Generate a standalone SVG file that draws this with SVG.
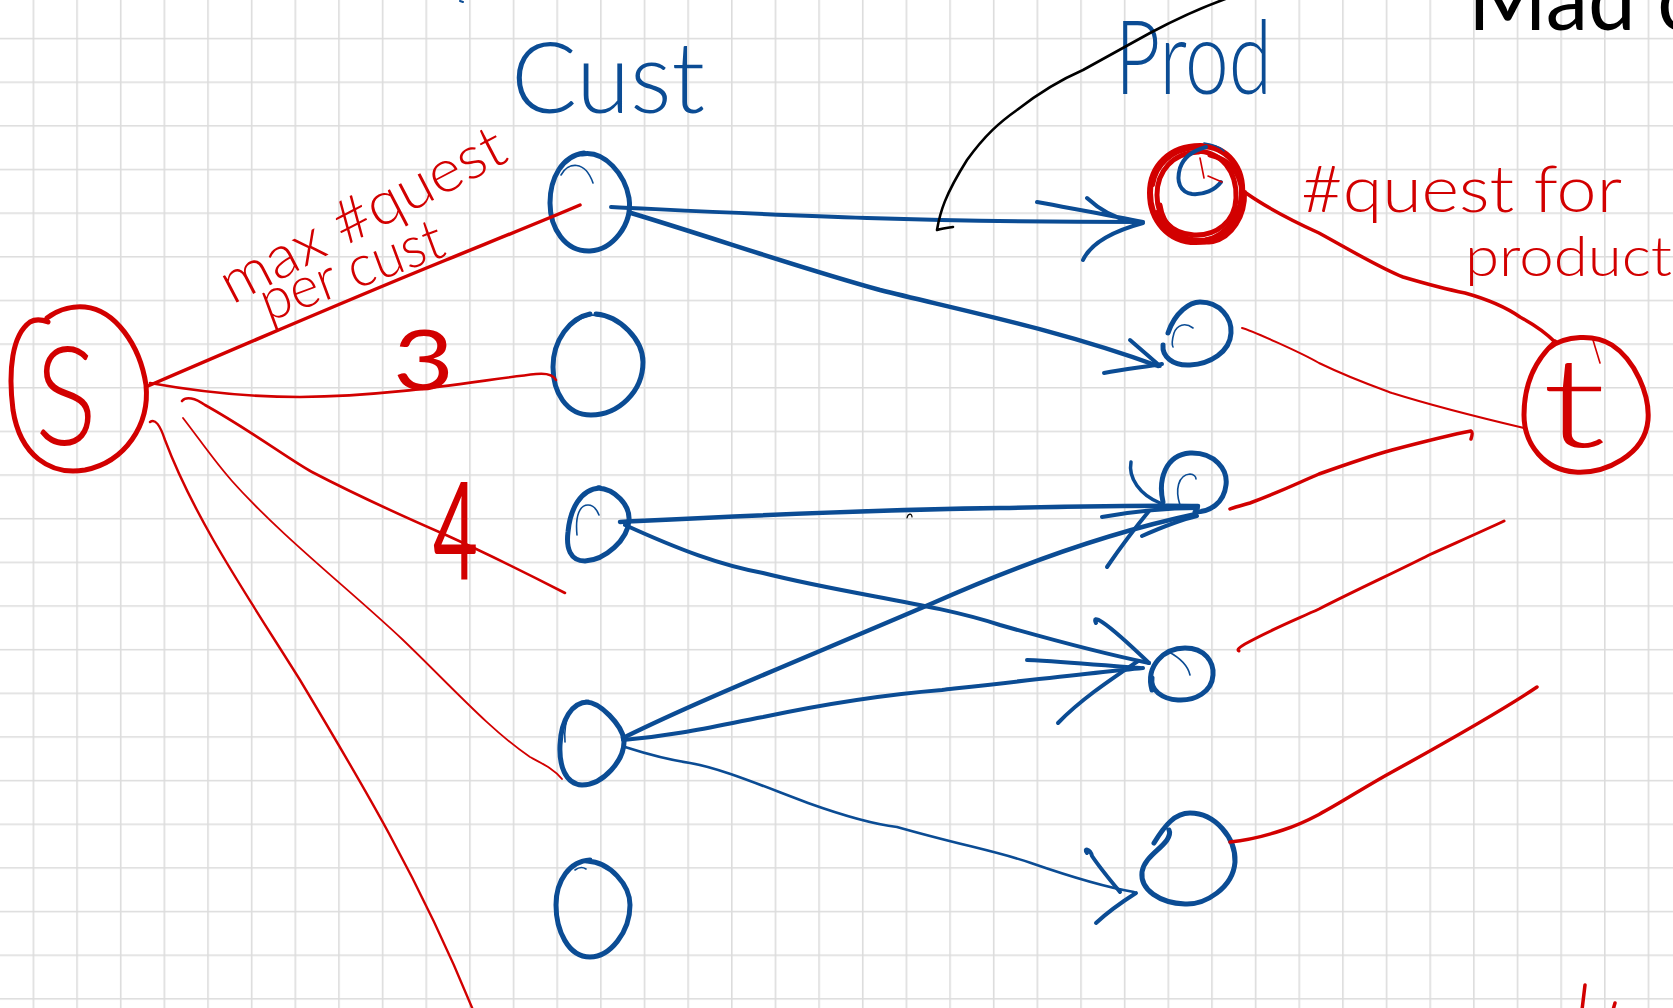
<svg xmlns="http://www.w3.org/2000/svg" width="1673" height="1008" viewBox="0 0 1673 1008">
  <defs>
    <pattern id="grid" x="32.6" y="37.8" width="43.65" height="43.65" patternUnits="userSpaceOnUse">
      <path d="M0.8,0 V43.65 M0,0.8 H43.65" stroke="#dcdcdc" stroke-width="1.6" fill="none"/>
    </pattern>
    <style>
      .ink { fill: none; stroke-linecap: round; stroke-linejoin: round; }
      .red { stroke: #d20000; }
      .blue { stroke: #0b4c94; }
      .black { stroke: #000000; }
      .node { stroke-width: 5; }
      .fine { stroke-width: 1.6; }
      .hand { font-family: Lato, "Liberation Sans", "DejaVu Sans", sans-serif; font-weight: 300; }
      .medium { font-weight: 400; }
      .tred { fill: #d20000; }
      .tblue { fill: #0b4c94; }
    </style>
  </defs>

  <!-- paper -->
  <rect width="1673" height="1008" fill="#ffffff"/>
  <rect width="1673" height="1008" fill="url(#grid)"/>

  <!-- column headings and notes -->
  <g id="labels">
    <text class="hand tblue" x="511" y="113" font-size="98" textLength="194" lengthAdjust="spacingAndGlyphs">Cust</text>
    <text class="hand tblue" x="1115" y="94" font-size="102" textLength="157" lengthAdjust="spacingAndGlyphs">Prod</text>
    <text class="hand medium" x="1468" y="30" font-size="90" textLength="230" lengthAdjust="spacingAndGlyphs" fill="#000">Mad c</text>
    <text class="hand tred" transform="translate(232,305) rotate(-27.5)" font-size="60" textLength="314" lengthAdjust="spacingAndGlyphs">max #quest</text>
    <text class="hand tred" transform="translate(268,322) rotate(-20.4)" font-size="58" textLength="192" lengthAdjust="spacingAndGlyphs">per cust</text>
    <text class="hand tred" x="1301" y="212" font-size="66" textLength="321" lengthAdjust="spacingAndGlyphs">#quest for</text>
    <text class="hand tred" x="1465" y="276" font-size="56" textLength="207" lengthAdjust="spacingAndGlyphs">product</text>
  </g>

  <!-- source -->
  <g id="node-s">
    <path class="ink red node" d="M47,318 C60,308 75,306 85,307 C115,310 140,345 146,385 C150,425 125,462 85,470 C50,476 20,455 13,410 C8,370 12,335 30,322 C37,318 43,320 48,322"/>
    <text class="hand tred" x="66" y="445" font-size="138" text-anchor="middle" textLength="62" lengthAdjust="spacingAndGlyphs">S</text>
  </g>

  <!-- sink -->
  <g id="node-t">
    <path class="ink red node" d="M1549,348 C1565,335 1595,334 1612,345 C1635,360 1650,395 1648,420 C1645,455 1605,474 1575,472 C1545,470 1524,445 1524,415 C1524,385 1535,360 1555,342"/>
    <path class="ink red fine" d="M1593,340 L1600,363"/>
    <text class="hand tred" x="1574" y="447" font-size="125" text-anchor="middle" textLength="64" lengthAdjust="spacingAndGlyphs">t</text>
  </g>

  <!-- customers -->
  <g id="cust-1">
    <path class="ink blue node" d="M582,154 C605,150 625,175 629,198 C633,225 612,250 590,251 C565,252 550,228 550,203 C550,178 562,156 584,153"/>
    <path class="ink blue fine" d="M561,175 C568,162 585,160 593,183"/>
  </g>
  <g id="cust-2">
    <path class="ink blue node" d="M596,314 C620,316 643,340 643,362 C643,392 618,415 591,415 C566,415 553,392 553,367 C553,340 570,318 590,314"/>
    <path class="ink blue fine" d="M576,322 C584,316 592,314 598,316"/>
  </g>
  <g id="cust-3">
    <path class="ink blue node" d="M598,488 C615,489 630,505 629,520 C628,540 605,560 585,561 C570,561 566,548 568,532 C570,510 580,489 600,488"/>
    <path class="ink blue fine" d="M577,535 C575,515 580,505 588,505 C593,505 597,510 599,515"/>
  </g>
  <g id="cust-4">
    <path class="ink blue node" d="M586,702 C600,702 622,725 624,740 C625,760 603,785 582,785 C565,784 559,765 560,745 C561,720 572,702 588,702"/>
    <path class="ink blue fine" d="M565,742 C564,730 566,720 570,712"/>
  </g>
  <g id="cust-5">
    <path class="ink blue node" d="M587,861 C610,862 630,885 630,905 C630,932 610,957 590,957 C568,957 556,930 556,905 C556,880 570,861 590,860"/>
    <path class="ink blue fine" d="M575,870 C579,867 583,867 586,869"/>
  </g>

  <!-- products -->
  <g id="prod-1">
    <path class="ink red" stroke-width="6" d="M1200,146 C1228,146 1244,168 1242,195 C1240,222 1220,242 1196,242 C1168,242 1150,220 1150,193 C1150,166 1170,146 1200,146"/>
    <path class="ink red" stroke-width="5" d="M1195,151 C1222,151 1237,172 1236,198 C1235,222 1216,236 1194,235 C1171,234 1157,218 1157,195 C1157,171 1173,153 1198,152"/>
    <path class="ink red" stroke-width="5" d="M1160,205 C1163,228 1182,242 1205,240 C1228,237 1244,218 1242,192 C1240,170 1227,159 1210,155"/>
    <path class="ink red" stroke-width="4" d="M1156,212 C1166,234 1190,245 1213,242 C1232,238 1246,216 1245,192"/>
    <path class="ink red" stroke-width="4" d="M1153,185 C1156,165 1172,150 1195,148"/>
    <path class="ink blue" stroke-width="4" d="M1206,147 C1195,150 1184,156 1180,168 C1176,182 1180,192 1192,194 C1204,195 1215,190 1221,182"/>
    <path class="ink blue fine" d="M1204,143 C1212,144 1220,147 1224,151"/>
    <path class="ink red fine" d="M1200,158 L1204,178 M1208,176 L1222,182"/>
  </g>
  <g id="prod-2">
    <path class="ink blue node" d="M1168,333 C1175,312 1190,302 1200,302 C1220,302 1232,318 1231,333 C1230,352 1210,364 1190,365 C1172,366 1162,356 1163,345"/>
    <path class="ink blue fine" d="M1193,328 C1185,322 1177,325 1174,333 C1172,340 1172,345 1173,347"/>
  </g>
  <g id="prod-3">
    <path class="ink blue node" d="M1163,502 C1158,480 1165,455 1190,453 C1215,452 1228,470 1226,485 C1224,503 1210,512 1195,512"/>
    <path class="ink blue fine" d="M1180,505 C1175,490 1178,475 1190,474 C1194,474 1196,477 1196,479"/>
    <path class="ink blue" stroke-width="3.5" d="M1131,462 C1128,478 1140,495 1160,503"/>
  </g>
  <g id="prod-4">
    <path class="ink blue node" d="M1152,690 C1145,665 1165,648 1185,648 C1205,648 1214,662 1213,675 C1212,692 1195,701 1178,700 C1162,699 1150,690 1152,678"/>
    <path class="ink blue fine" d="M1169,652 C1180,658 1188,666 1190,675"/>
  </g>
  <g id="prod-5">
    <path class="ink blue node" d="M1154,843 C1165,825 1175,813 1190,813 C1215,813 1236,838 1235,862 C1233,888 1205,905 1185,904 C1160,903 1140,890 1142,872 C1144,858 1160,850 1167,840 C1170,835 1170,832 1169,830"/>
  </g>

  <!-- connectors -->
  <g id="connectors">
    <!-- supply edges s -> customers -->
    <path class="ink red" stroke-width="3.5" d="M148,386 C250,342 360,295 446,260 C500,238 545,220 580,205"/>
    <path class="ink red" stroke-width="2.6" d="M150,383 C200,392 250,397 300,397 C400,396 480,380 536,374 C546,373 553,374 556,380"/>
    <path class="ink red" stroke-width="2.6" d="M182,401 C186,396 195,398 205,405 C250,430 290,460 312,472 C360,497 400,515 446,535 C490,555 530,575 565,593"/>
    <path class="ink red" stroke-width="1.8" d="M183,418 C200,440 215,462 232,481 C280,535 350,590 402,639 C450,685 490,730 530,757 C545,765 555,770 562,779"/>
    <path class="ink red" stroke-width="2.4" d="M150,422 C155,418 160,425 165,440 C195,520 250,600 300,680 C360,780 420,880 473,1010"/>
    <text class="hand medium tred" x="393" y="390" font-size="84" textLength="61" lengthAdjust="spacingAndGlyphs">3</text>
    <text class="hand medium tred" x="433" y="580" font-size="135" textLength="45" lengthAdjust="spacingAndGlyphs">4</text>

    <!-- customer -> product arcs -->
    <path class="ink blue" stroke-width="4" d="M611,207 C760,214 900,222 1141,222"/>
    <path class="ink blue" stroke-width="4" d="M1037,202 C1080,210 1115,216 1143,222 M1083,260 C1090,245 1110,232 1143,223 M1087,198 C1100,210 1115,218 1130,221"/>

    <path class="ink blue" stroke-width="4.5" d="M631,213 C720,240 800,268 880,290 C960,310 1060,330 1158,366"/>
    <path class="ink blue" stroke-width="4" d="M1130,340 L1160,366 M1104,373 C1125,369 1145,367 1162,364"/>

    <path class="ink blue" stroke-width="4.5" d="M620,522 C700,518 850,510 1000,508 C1100,506 1160,505 1198,506"/>
    <path class="ink blue" stroke-width="4" d="M1102,517 C1130,512 1160,508 1198,508 M1142,536 C1160,528 1180,520 1197,516"/>

    <path class="ink blue" stroke-width="4" d="M625,525 C680,550 720,565 763,573 C850,595 933,603 1000,625 C1070,645 1110,655 1149,663"/>
    <path class="ink blue" stroke-width="4" d="M1096,623 C1092,615 1100,616 1149,663 M1027,660 C1070,662 1110,666 1140,668 M1058,723 C1080,700 1110,680 1138,661"/>

    <path class="ink blue" stroke-width="4.5" d="M623,738 C700,700 800,660 933,603 C1030,560 1120,530 1196,514"/>
    <path class="ink blue" stroke-width="4" d="M1107,567 C1120,548 1135,528 1149,511"/>

    <path class="ink blue" stroke-width="4" d="M623,740 C680,735 720,725 763,717 C820,705 880,695 942,690 C1030,680 1100,672 1143,668"/>

    <path class="ink blue" stroke-width="2.6" d="M625,747 C650,755 670,760 690,763 C720,768 760,785 808,803 C850,818 880,825 897,827 C960,845 1000,852 1031,863 C1080,880 1110,888 1134,892"/>
    <path class="ink blue" stroke-width="4" d="M1087,853 C1083,848 1090,848 1092,856 C1100,868 1110,880 1120,892 M1096,923 C1110,910 1125,900 1136,893"/>

    <!-- demand edges products -> t -->
    <path class="ink red" stroke-width="3.5" d="M1246,193 C1270,210 1295,222 1319,233 C1350,250 1380,268 1403,277 C1430,285 1450,290 1465,293 C1490,300 1510,310 1520,317 C1535,325 1548,335 1555,342"/>
    <path class="ink red" stroke-width="2" d="M1242,328 C1250,330 1300,352 1319,363 C1350,378 1370,385 1392,393 C1440,408 1490,420 1524,428"/>
    <path class="ink red" stroke-width="3.5" d="M1230,509 C1232,508 1240,506 1250,503 C1280,492 1300,482 1319,474 C1350,463 1370,456 1392,450 C1430,440 1455,434 1471,431 C1473,432 1472,436 1471,439"/>
    <path class="ink red" stroke-width="3" d="M1239,651 C1236,650 1240,647 1245,644 C1270,630 1295,620 1319,609 C1360,588 1400,570 1429,555 C1460,541 1485,530 1504,521"/>
    <path class="ink red" stroke-width="3.5" d="M1230,842 C1250,840 1265,836 1283,830 C1320,818 1350,795 1392,772 C1450,740 1500,712 1537,687"/>

    <!-- black sweep at the top -->
    <path class="ink black" stroke-width="2.6" d="M953,227 C945,228 940,229 937,230 C940,212 945,195 967,160 C985,135 1000,122 1017,110 C1040,92 1060,80 1083,70 C1110,55 1130,44 1150,33 C1180,17 1200,8 1228,-2"/>
  </g>

  <!-- stray pen marks at the edges -->
  <g id="marks">
    <path class="ink blue" stroke-width="2" d="M460,1 L463,2"/>
    <path class="ink black" stroke-width="1.2" d="M907,518 C908,513 912,513 912,517"/>
    <path class="ink red" stroke-width="3.5" d="M1585,985 L1582,1010 M1615,1003 L1613,1010"/>
  </g>
</svg>
